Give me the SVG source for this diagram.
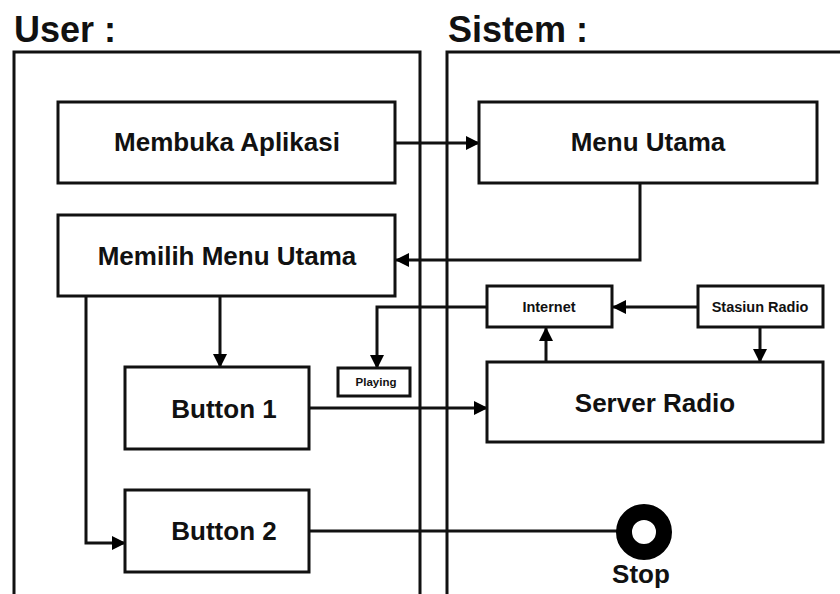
<svg xmlns="http://www.w3.org/2000/svg" width="840" height="594" viewBox="0 0 840 594">
<defs>
<marker id="ah" markerUnits="userSpaceOnUse" markerWidth="14" markerHeight="14" refX="13" refY="7" orient="auto">
<path d="M0,0 L14,7 L0,14 z" fill="#000"/>
</marker>
<style>
.box{fill:#fff;stroke:#111;stroke-width:3}
.lane{fill:none;stroke:#111;stroke-width:3}
.c{fill:none;stroke:#111;stroke-width:3}
.ca{fill:none;stroke:#111;stroke-width:3;marker-end:url(#ah)}
text{font-family:"Liberation Sans",Arial,sans-serif;font-weight:bold;fill:#111;text-anchor:middle}
.h{font-size:36px;text-anchor:start}
.t{font-size:26px}
.s{font-size:14.5px}
.xs{font-size:11.5px}
</style>
</defs>
<rect width="840" height="594" fill="#fff"/>
<g id="lanes">
<text class="h" x="14" y="42">User :</text>
<text class="h" x="448" y="42">Sistem :</text>
<path class="lane" d="M14,596 V52 H420 V596"/>
<path class="lane" d="M447,596 V52 H845"/>
</g>
<g id="connectors">
<path class="ca" d="M395,143 H479"/>
<path class="ca" d="M640,183 V260 H396"/>
<path class="ca" d="M220,296 V367"/>
<path class="ca" d="M86,296 V543 H125"/>
<path class="ca" d="M309,408 H487"/>
<path class="ca" d="M698,307 H613"/>
<path class="ca" d="M760,327 V362"/>
<path class="ca" d="M546,362 V328"/>
<path class="ca" d="M487,307 H377 V368"/>
<path class="c" d="M309,531 H620"/>
</g>
<g id="membuka"><rect class="box" x="58" y="102" width="337" height="81"/><text class="t" x="227" y="151">Membuka Aplikasi</text></g>
<g id="menu-utama"><rect class="box" x="479" y="102" width="338" height="81"/><text class="t" x="648" y="151">Menu Utama</text></g>
<g id="memilih"><rect class="box" x="58" y="215" width="337" height="81"/><text class="t" x="227" y="265">Memilih Menu Utama</text></g>
<g id="button1"><rect class="box" x="125" y="367" width="184" height="82"/><text class="t" x="224" y="418">Button 1</text></g>
<g id="button2"><rect class="box" x="125" y="490" width="184" height="82"/><text class="t" x="224" y="540">Button 2</text></g>
<g id="internet"><rect class="box" x="487" y="286" width="125" height="41"/><text class="s" x="549" y="312">Internet</text></g>
<g id="stasiun"><rect class="box" x="698" y="286" width="125" height="41"/><text class="s" x="760" y="312">Stasiun Radio</text></g>
<g id="playing"><rect class="box" x="338" y="368" width="72" height="28"/><text class="xs" x="376" y="386">Playing</text></g>
<g id="server"><rect class="box" x="487" y="362" width="336" height="80"/><text class="t" x="655" y="412">Server Radio</text></g>
<g id="stop"><circle cx="644" cy="532" r="20" fill="#fff" stroke="#000" stroke-width="16"/><text class="t" x="641" y="583">Stop</text></g>
</svg>
